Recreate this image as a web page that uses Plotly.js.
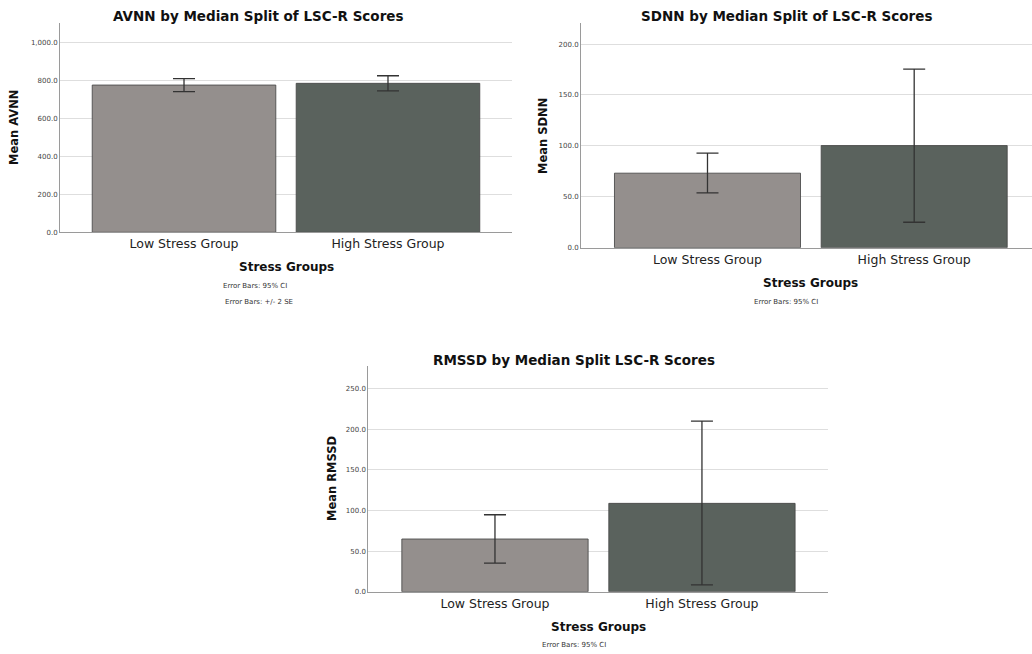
<!DOCTYPE html>
<html>
<head>
<meta charset="utf-8">
<script src="https://cdn.plot.ly/plotly-3.0.1.min.js"></script>
<style>html,body{margin:0;padding:0;background:#fff;}#chart{width:1032px;height:654px;}</style>
</head>
<body>
<div id="chart"></div>
<script>
// ---- data ----
const categories = ["Low Stress Group", "High Stress Group"];

const avnnMean = [777, 786];
const avnnUpper = [811, 826];
const avnnLower = [742, 746];

const sdnnMean = [73.2, 100.3];
const sdnnUpper = [92.8, 175.4];
const sdnnLower = [53.8, 25.0];

const rmssdMean = [64.9, 108.8];
const rmssdUpper = [94.8, 210.2];
const rmssdLower = [35.3, 8.3];

const avnnTicks = [0, 200, 400, 600, 800, 1000];
const sdnnTicks = [0, 50, 100, 150, 200];
const rmssdTicks = [0, 50, 100, 150, 200, 250];

// ---- layout helpers ----
const W = 1032, H = 654;
const fx = p => p / W;
const fy = p => 1 - p / H;
const FONT = "DejaVu Sans";
const barColors = ["#948f8d", "#5a625d"];

function barTrace(mean, up, lo, xa, ya) {
  return {
    type: "bar", x: categories, y: mean, xaxis: xa, yaxis: ya,
    width: 0.9,
    marker: {color: barColors, line: {color: "rgba(70,70,70,0.85)", width: 1}},
    error_y: {
      type: "data", symmetric: false,
      array: mean.map((m, i) => up[i] - m),
      arrayminus: mean.map((m, i) => m - lo[i]),
      color: "#333", thickness: 1.3, width: 11
    },
    hoverinfo: "skip", showlegend: false
  };
}

function d3fmt(v) {
  return v.toLocaleString("en-US", {minimumFractionDigits: 1, maximumFractionDigits: 1});
}
function yAxis(domainPx, range, ticks, xa) {
  return {
    domain: [fy(domainPx[1]), fy(domainPx[0])], range: range,
    tickvals: ticks, ticktext: ticks.map(v => d3fmt(v)),
    showgrid: true, gridcolor: "#dedede", gridwidth: 1,
    zeroline: false, showline: true, linecolor: "#9a9a9a", linewidth: 1,
    ticks: "", tickfont: {family: FONT, size: 7, color: "#444"},
    anchor: xa, fixedrange: true
  };
}
function xAxis(domainPx, range, ya) {
  return {
    domain: [fx(domainPx[0]), fx(domainPx[1])], range: range, type: "category",
    showgrid: false, zeroline: false, showline: true, linecolor: "#9a9a9a", linewidth: 1,
    ticks: "", tickfont: {family: FONT, size: 12.5, color: "#222"},
    anchor: ya, fixedrange: true
  };
}

function ann(text, xpx, ypx, size, bold, angle) {
  return {
    text: bold ? "<b>" + text + "</b>" : text,
    x: fx(xpx), y: fy(ypx), xref: "paper", yref: "paper",
    xanchor: "center", yanchor: "middle", showarrow: false,
    textangle: angle || 0,
    font: {family: FONT, size: size, color: bold ? "#111" : "#333"}
  };
}

const data = [
  barTrace(avnnMean, avnnUpper, avnnLower, "x", "y"),
  barTrace(sdnnMean, sdnnUpper, sdnnLower, "x2", "y2"),
  barTrace(rmssdMean, rmssdUpper, rmssdLower, "x3", "y3")
];

const layout = {
  width: W, height: H,
  margin: {l: 0, r: 0, t: 0, b: 0},
  paper_bgcolor: "#fff", plot_bgcolor: "#fff",
  xaxis: xAxis([60, 512], [-0.608, 1.608], "y"),
  yaxis: yAxis([22.7, 232.3], [0, 1106], avnnTicks, "x"),
  xaxis2: xAxis([581, 1032], [-0.612, 1.570], "y2"),
  yaxis2: yAxis([22.7, 247.7], [0, 221], sdnnTicks, "x2"),
  xaxis3: xAxis([368.3, 828], [-0.612, 1.609], "y3"),
  yaxis3: yAxis([366, 591.7], [0, 278], rmssdTicks, "x3"),
  annotations: [
    ann("AVNN by Median Split of LSC-R Scores", 258, 16, 13.5, true),
    ann("Mean AVNN", 14, 128, 11.5, true, -90),
    ann("Stress Groups", 286, 267, 12, true),
    ann("Error Bars: 95% CI", 255, 286, 7, false),
    ann("Error Bars: +/- 2 SE", 259, 302, 7, false),

    ann("SDNN by Median Split of LSC-R Scores", 786, 16, 13.5, true),
    ann("Mean SDNN", 543, 136, 11.5, true, -90),
    ann("Stress Groups", 810, 283, 12, true),
    ann("Error Bars: 95% CI", 786, 302, 7, false),

    ann("RMSSD by Median Split LSC-R Scores", 574, 360, 13.5, true),
    ann("Mean RMSSD", 332, 479, 11.5, true, -90),
    ann("Stress Groups", 598, 627, 12, true),
    ann("Error Bars: 95% CI", 574, 645, 7, false)
  ]
};

Plotly.newPlot("chart", data, layout, {displayModeBar: false, staticPlot: true});
</script>
</body>
</html>
